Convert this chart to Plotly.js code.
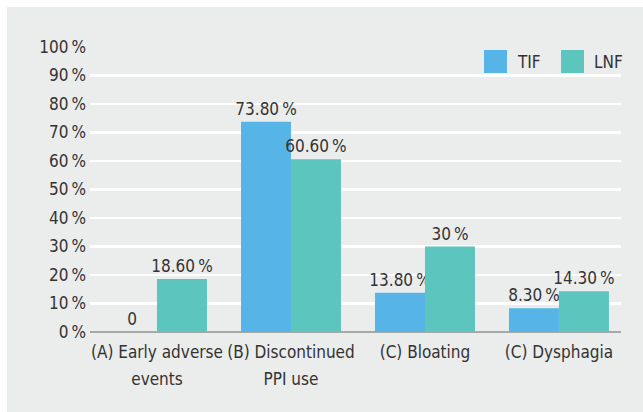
<!DOCTYPE html>
<html>
<head>
<meta charset="utf-8">
<script src="https://cdn.plot.ly/plotly-3.0.1.min.js"></script>
<style>
html,body{margin:0;padding:0;background:#ffffff;}
#chart{position:absolute;left:7px;top:7px;width:636px;height:405px;}
</style>
</head>
<body>
<div id="chart"></div>
<script>
const categories = ["(A) Early adverse<br>events", "(B) Discontinued<br>PPI use", "(C) Bloating", "(C) Dysphagia"];
const seriesNames = ["TIF", "LNF"];
const seriesColors = ["#56b4e7", "#5cc5be"];
const tifValues = [0, 73.8, 13.8, 8.3];
const lnfValues = [18.6, 60.6, 30, 14.3];
const tifLabels = ["0", "73.80\u2009%", "13.80\u2009%", "8.30\u2009%"];
const lnfLabels = ["18.60\u2009%", "60.60\u2009%", "30\u2009%", "14.30\u2009%"];
const yTickVals = [0, 10, 20, 30, 40, 50, 60, 70, 80, 90, 100];
const yTickText = ["0\u2009%", "10\u2009%", "20\u2009%", "30\u2009%", "40\u2009%", "50\u2009%", "60\u2009%", "70\u2009%", "80\u2009%", "90\u2009%", "100\u2009%"];

const FONT = "'DejaVu Sans Condensed', 'Liberation Sans Narrow', sans-serif";
const FS = 17;
const textColor = "#333333";

// x tick labels: wider line spacing via a larger base font, glyphs kept at FS
const xTickText = categories.map(c => c.split("<br>").map(s => '<span style="font-size:' + FS + 'px">' + s + '</span>').join("<br>"));

const traces = [
  {type: "bar", name: seriesNames[0], x: categories, y: tifValues, text: tifLabels,
   textposition: "outside", cliponaxis: false, constraintext: "none",
   textfont: {family: FONT, size: FS, color: textColor},
   marker: {color: seriesColors[0]}, showlegend: false},
  {type: "bar", name: seriesNames[1], x: categories, y: lnfValues, text: lnfLabels,
   textposition: "outside", cliponaxis: false, constraintext: "none",
   textfont: {family: FONT, size: FS, color: textColor},
   marker: {color: seriesColors[1]}, showlegend: false}
];

// custom legend (large square swatches like the reference)
const legendX = [0.742, 0.887];
const shapes = legendX.map((x0, i) => ({
  type: "rect", xref: "paper", yref: "paper",
  x0: x0, x1: x0 + 0.0433, y0: 0.9088, y1: 0.9895,
  fillcolor: seriesColors[i], line: {width: 0}
}));
const annotations = legendX.map((x0, i) => ({
  xref: "paper", yref: "paper", x: x0 + 0.0584, y: 0.949,
  xanchor: "left", yanchor: "middle", showarrow: false,
  text: seriesNames[i], font: {family: FONT, size: FS, color: textColor}
}));

const layout = {
  width: 636, height: 405,
  margin: {l: 83, r: 22, t: 40, b: 80},
  paper_bgcolor: "#ebecec",
  plot_bgcolor: "#ebecec",
  font: {family: FONT, size: FS, color: textColor},
  barmode: "group",
  bargap: 0.254,
  bargroupgap: 0,
  showlegend: false,
  shapes: shapes,
  annotations: annotations,
  xaxis: {type: "category", range: [-0.5, 3.463],
          tickvals: categories, ticktext: xTickText,
          showgrid: false, zeroline: false, showline: false,
          ticks: "", tickangle: 0, automargin: false, ticklabelstandoff: 4,
          tickfont: {family: FONT, size: 21, color: textColor}},
  yaxis: {range: [0, 100], tickvals: yTickVals, ticktext: yTickText,
          showgrid: true, gridcolor: "#ffffff", gridwidth: 2.5,
          zeroline: true, zerolinecolor: "#a7a8a8", zerolinewidth: 2.5,
          showline: false, ticks: "", ticklabelstandoff: 3, automargin: false,
          tickfont: {family: FONT, size: FS, color: textColor}}
};

Plotly.newPlot("chart", traces, layout, {displayModeBar: false, staticPlot: true});
</script>
</body>
</html>
